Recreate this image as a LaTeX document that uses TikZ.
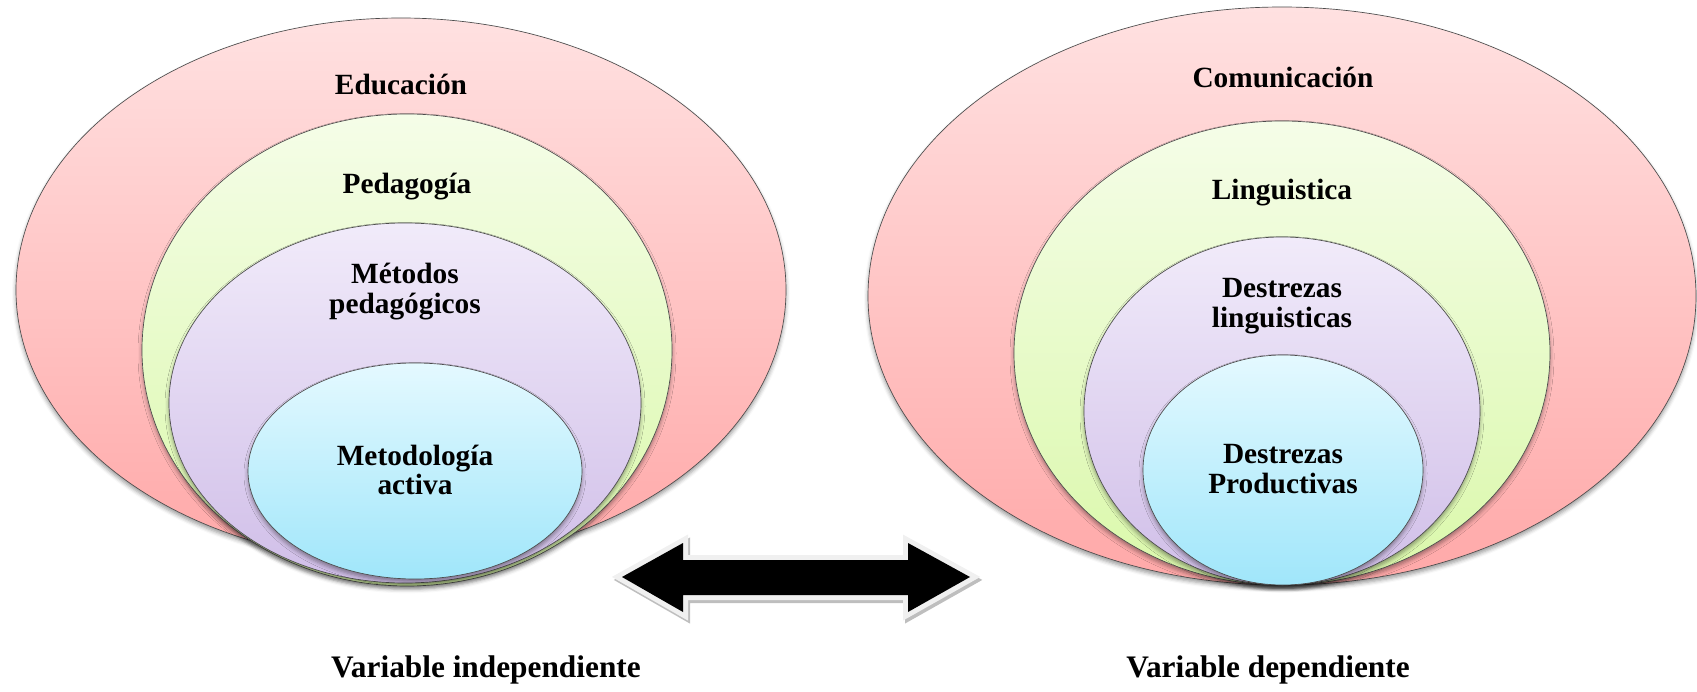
\documentclass[tikz,border=0pt]{standalone}
\usepackage{fontspec}
\setmainfont{Liberation Serif}
\usetikzlibrary{shadows.blur}
\definecolor{redT}{RGB}{255,225,225}
\definecolor{redB}{RGB}{255,168,168}
\definecolor{grnT}{RGB}{245,253,232}
\definecolor{grnB}{RGB}{218,248,170}
\definecolor{purT}{RGB}{241,235,250}
\definecolor{purB}{RGB}{208,190,232}
\definecolor{bluT}{RGB}{228,249,255}
\definecolor{bluB}{RGB}{160,230,250}
\definecolor{arrowEdge}{RGB}{240,240,240}
\definecolor{arrowShade}{RGB}{190,190,190}
\newcommand\dblarrowpath{(622,577) -- (683,543) -- (683,560) -- (908,560) -- (908,543) -- (970,577) -- (908,612) -- (908,595) -- (683,595) -- (683,612) -- cycle}
\begin{document}
\begin{tikzpicture}[x=0.75pt,y=-0.75pt,
  ring/.style={draw=black!70, line width=0.5pt,
    blur shadow={shadow xshift=0pt, shadow yshift=-2.5pt, shadow blur radius=3pt, shadow opacity=40}},
  redring/.style={ring, top color=redT, bottom color=redB},
  grnring/.style={ring, top color=grnT, bottom color=grnB},
  purring/.style={ring, top color=purT, bottom color=purB},
  bluring/.style={ring, top color=bluT, bottom color=bluB},
  lbl/.style={font=\bfseries\fontsize{22}{26}\selectfont, anchor=base, inner sep=0pt},
  captionlbl/.style={font=\bfseries\fontsize{23.5}{28}\selectfont, anchor=base, inner sep=0pt},
]
\useasboundingbox (0,0) rectangle (1697,692);

% left cluster
\draw[redring] (401,290) ellipse [x radius=385, y radius=272];
\draw[grnring] (407,350) ellipse [x radius=265, y radius=236];
\draw[purring] (405,403) ellipse [x radius=236, y radius=180];
\draw[bluring] (415,471) ellipse [x radius=167, y radius=108];

\node[lbl] (edu) at (401,95) {Educación};
\node[lbl] (ped) at (407,193) {Pedagogía};
\node[lbl] (meta) at (405,283) {Métodos};
\node[lbl] (metb) at (405,313) {pedagógicos};
\node[lbl] (acta) at (415,465) {Metodología};
\node[lbl] (actb) at (415,494) {activa};

% right cluster
\draw[redring] (1282,296) ellipse [x radius=414, y radius=289];
\draw[grnring] (1282,353) ellipse [x radius=268, y radius=232];
\draw[purring] (1282,411) ellipse [x radius=198, y radius=174];
\draw[bluring] (1283,470) ellipse [x radius=140, y radius=115];

\node[lbl] (com) at (1283,88) {Comunicación};
\node[lbl] (lin) at (1282,199) {Linguistica};
\node[lbl] (dla) at (1282,297) {Destrezas};
\node[lbl] (dlb) at (1282,327) {linguisticas};
\node[lbl] (dpa) at (1283,463) {Destrezas};
\node[lbl] (dpb) at (1283,493) {Productivas};

% double arrow
\draw[arrowShade, fill=arrowShade, line width=7.5pt, line join=miter, shift={(2,3)}] \dblarrowpath;
\draw[arrowEdge, fill=arrowEdge, line width=7.5pt, line join=miter] \dblarrowpath;
\fill[black] \dblarrowpath;

% captions
\node[captionlbl] (vi) at (486,677) {Variable independiente};
\node[captionlbl] (vd) at (1268,677) {Variable dependiente};
\end{tikzpicture}
\end{document}
